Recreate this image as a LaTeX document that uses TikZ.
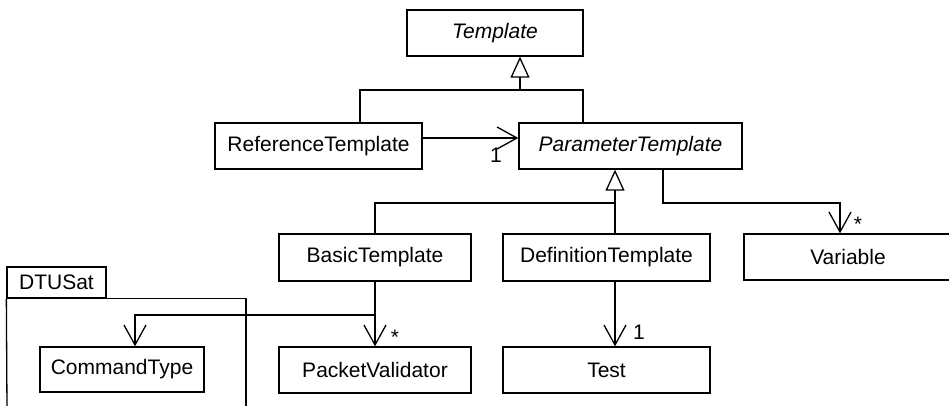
\documentclass[tikz,border=0pt]{standalone}
\usepackage{fontspec}
\setmainfont{Liberation Sans}
\usetikzlibrary{arrows.meta}
\begin{document}
\begin{tikzpicture}[x=1pt,y=-1pt,
  line width=1.3pt,
  every node/.style={font=\fontsize{21}{25}\selectfont},
  box/.style={draw, inner sep=0pt, line width=1.3pt},
  gen/.style={-{Triangle[open,length=21pt,width=19pt]}},
  assoc/.style={-{Straight Barb[length=20pt,width=22pt]}},
  mult/.style={inner sep=0pt}]
\useasboundingbox (0,0) rectangle (949,405);

% classes
\node[box, minimum width=176pt, minimum height=46pt] (tmpl) at (495,33) {\itshape Template};
\node[box, minimum width=207pt, minimum height=46pt] (reft) at (318.5,146) {ReferenceTemplate};
\node[box, minimum width=223pt, minimum height=46pt] (part) at (630.5,146) {\itshape ParameterTemplate};
\node[box, minimum width=192pt, minimum height=47pt] (bast) at (375,257.5) {BasicTemplate};
\node[box, minimum width=207pt, minimum height=47pt] (deft) at (606.5,257.5) {DefinitionTemplate};
\node[box, minimum width=208pt, minimum height=46pt] (var) at (848,257) {Variable};
\node[box, minimum width=164pt, minimum height=45pt] (cmd) at (122,369.5) {CommandType};
\node[box, minimum width=192pt, minimum height=46pt] (pval) at (375,370) {PacketValidator};
\node[box, minimum width=207pt, minimum height=46pt] (test) at (606.5,370) {Test};

% package DTUSat
\node[box, minimum width=99pt, minimum height=31pt] (pkg) at (56.5,282.5) {DTUSat};
\draw (pkg.south west) -- (7,410);
\draw (pkg.south west) -| (246,410);

% generalisation to Template
\coordinate (g1) at (520,90);
\draw[gen] (g1) -- (tmpl.south -| g1);
\draw ([xshift=41.5pt]reft.north) |- (g1);
\draw ([xshift=-47.5pt]part.north) |- (g1);

% generalisation to ParameterTemplate
\coordinate (g2) at (615,203);
\draw[gen] (g2) -- (part.south -| g2);
\draw (bast.north) |- (g2);
\draw ([xshift=8.5pt]deft.north) -- (g2);

% associations
\draw[assoc] ([yshift=8pt]reft.east) -- ([yshift=8pt]part.west);
\node[mult] (m1) at (496,155) {1};

\coordinate (v1) at (840,203);
\draw[assoc] ([xshift=32.5pt]part.south) |- (v1) -- (var.north -| v1);
\node[mult] (m2) at (858,224) {*};

\draw[assoc] ([xshift=8.5pt]deft.south) -- ([xshift=8.5pt]test.north);
\node[mult] (m3) at (639,332) {1};

\coordinate (b1) at (375,315);
\draw[assoc] (bast.south) -- (pval.north);
\draw[assoc] (b1) -| ([xshift=13pt]cmd.north);
\node[mult] (m4) at (395,337) {*};
\end{tikzpicture}
\end{document}
